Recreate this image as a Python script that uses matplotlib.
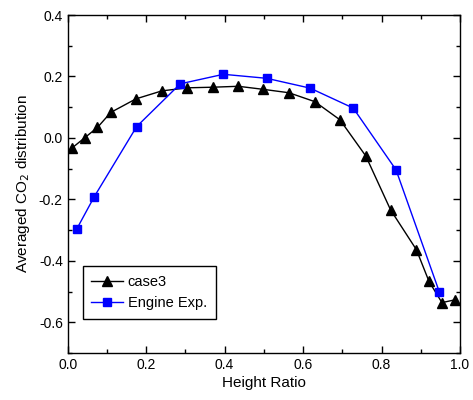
import matplotlib
matplotlib.use("Agg")
import matplotlib.pyplot as plt
from matplotlib.ticker import MultipleLocator

plt.rcParams['font.family'] = ['Liberation Sans', 'DejaVu Sans']

case3_x = [0.011, 0.044, 0.076, 0.110, 0.174, 0.240, 0.305, 0.370, 0.435, 0.499,
           0.564, 0.630, 0.694, 0.760, 0.823, 0.889, 0.921, 0.954, 0.987]
case3_y = [-0.033, 0.001, 0.034, 0.083, 0.127, 0.153, 0.163, 0.165, 0.168, 0.158,
           0.147, 0.118, 0.059, -0.059, -0.234, -0.364, -0.467, -0.536, -0.527]

exp_x = [0.023, 0.068, 0.176, 0.287, 0.397, 0.507, 0.618, 0.728, 0.837, 0.947]
exp_y = [-0.297, -0.191, 0.037, 0.176, 0.207, 0.194, 0.162, 0.097, -0.104, -0.500]

fig = plt.figure(figsize=(4.73, 4.0), dpi=100)
ax = fig.add_axes([0.143, 0.1175, 0.8295, 0.845])

ax.plot(case3_x, case3_y, color='black', marker='^', markersize=7, linewidth=1.0, label='case3')
ax.plot(exp_x, exp_y, color='blue', marker='s', markersize=6, linewidth=1.0, label='Engine Exp.')

ax.set_xlim(0.0, 1.0)
ax.set_ylim(-0.7, 0.4)
ax.xaxis.set_minor_locator(MultipleLocator(0.1))
ax.yaxis.set_minor_locator(MultipleLocator(0.1))
ax.set_xticks([0.0, 0.2, 0.4, 0.6, 0.8, 1.0])
ax.set_xticklabels(['0.0', '0.2', '0.4', '0.6', '0.8', '1.0'])
ax.set_yticks([-0.6, -0.4, -0.2, 0.0, 0.2, 0.4])
ax.set_yticklabels(['-0.6', '-0.4', '-0.2', '0.0', '0.2', '0.4'])

ax.tick_params(which='both', direction='in', top=True, right=True, labelsize=10)
ax.tick_params(which='major', length=5, width=1)
ax.tick_params(which='minor', length=3, width=1)
for s in ax.spines.values():
    s.set_linewidth(1.0)

ax.set_xlabel('Height Ratio', fontsize=11, labelpad=3)
ax.set_ylabel('Averaged CO$_2$ distribution', fontsize=11, labelpad=5)

leg = ax.legend(loc='lower left', bbox_to_anchor=(0.038, 0.10), borderaxespad=0,
                fontsize=10.5, frameon=True, fancybox=False, edgecolor='black',
                framealpha=1, handlelength=2.2, borderpad=0.6, labelspacing=0.5,
                handletextpad=0.3)
leg.get_frame().set_linewidth(1.0)

fig.savefig('out.png', dpi=100)
